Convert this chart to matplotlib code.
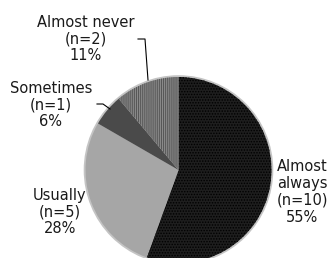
import matplotlib
matplotlib.use("Agg")
import matplotlib.pyplot as plt
from matplotlib.patches import Circle

# answers, counts and shares
cats = ["Almost always", "Usually", "Sometimes", "Almost never"]
counts = [10, 5, 1, 2]
pcts = ["55%", "28%", "6%", "11%"]
labels = ["Almost\nalways\n(n=10)\n55%", "Usually\n(n=5)\n28%",
          "Sometimes\n(n=1)\n6%", "Almost never\n(n=2)\n11%"]

face = ["#1e1e1e", "#a6a6a6", "#4a4a4a", "#8a8a8a"]
hatch = ["......", None, None, "||||||||"]
hcol = ["#000000", "#a6a6a6", "#4a4a4a", "#555555"]

plt.rcParams['hatch.linewidth'] = 0.7

W, H = 328, 258
fig = plt.figure(figsize=(W / 100, H / 100), dpi=100)
ax = fig.add_axes([0, 0, 1, 1])

cx, cy, r = 178.5, H - 170, 93

# light rim behind the pie (bevel look)
ax.add_patch(Circle((cx, cy), r + 1.8, facecolor="#c4c4c4", edgecolor="none", zorder=0))

wedges, _ = ax.pie(counts, colors=face, startangle=90, counterclock=False,
                   center=(cx, cy), radius=r, wedgeprops=dict(linewidth=0))
for w, h, c in zip(wedges, hatch, hcol):
    w.set_zorder(1)
    w.set_edgecolor(c)
    if h:
        w.set_hatch(h)

# labels (pixel positions of the text centres)
pos = [(302, 192), (60, 212), (51, 105), (86, 39)]
for lab, (x, y) in zip(labels, pos):
    ax.text(x, H - y, lab, ha='center', va='center', fontsize=10.5,
            color="#1a1a1a", family="DejaVu Sans", linespacing=1.15)

# leader lines
ax.plot([138, 145, 148], [H - 39, H - 39, H - 80], color="black", lw=0.8)
ax.plot([97, 103, 110], [H - 104, H - 104, H - 109], color="black", lw=0.8)

ax.set_xlim(0, W)
ax.set_ylim(0, H)
ax.set_aspect('equal')
ax.axis('off')

fig.savefig("out.png", dpi=100)
